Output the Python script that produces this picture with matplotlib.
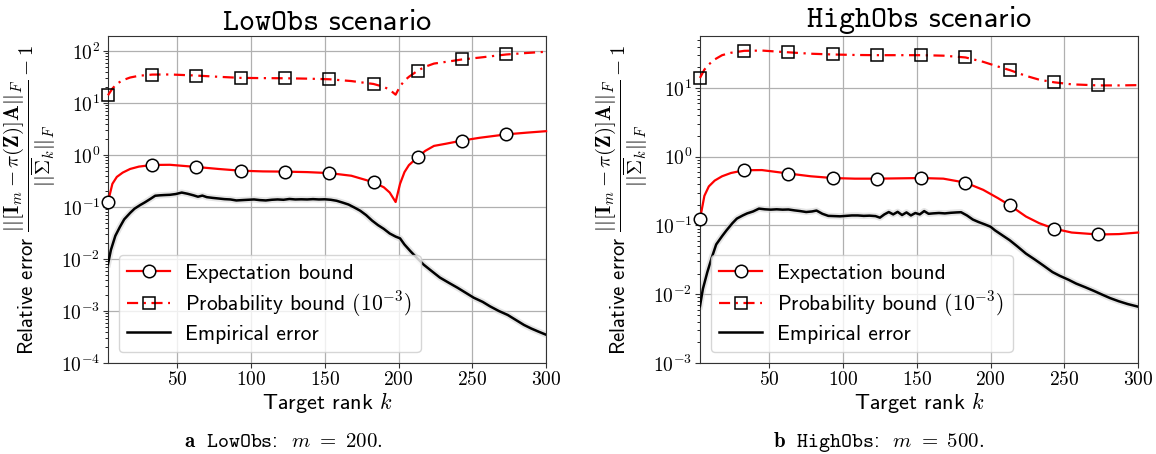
import numpy as np
import matplotlib
matplotlib.use('Agg')
import matplotlib.pyplot as plt
from matplotlib.ticker import FixedLocator, FuncFormatter, NullFormatter, LogLocator

plt.rcParams['mathtext.fontset'] = 'cm'
plt.rcParams['font.family'] = ['cmss10', 'DejaVu Sans']
plt.rcParams['axes.formatter.use_mathtext'] = True

# target ranks carrying a marker
marker_k = [3, 33, 63, 93, 123, 153, 183, 213, 243, 273]

# ---- LowObs (m = 200) ----
k_bound_low = [3, 6, 9, 13, 18, 24, 33, 45, 63, 78, 93, 108, 123, 138, 153, 168,
               183, 190, 194, 198, 201, 204, 207, 213, 218, 224, 232, 243, 255, 273, 287, 300]
exp_low = [0.125, 0.28, 0.38, 0.46, 0.54, 0.60, 0.645, 0.65, 0.59, 0.54, 0.50, 0.485,
           0.48, 0.47, 0.45, 0.40, 0.30, 0.24, 0.19, 0.125, 0.28, 0.47, 0.64, 0.91,
           1.2, 1.5, 1.65, 1.9, 2.15, 2.5, 2.7, 2.88]
prob_low = [14.1, 19, 23.5, 27.5, 31, 33.5, 35.3, 35.5, 33.8, 32, 30.5, 30.2,
            30, 29.5, 28.7, 26.5, 23.3, 20.5, 18, 14.5, 21, 27, 32, 42,
            50, 57.5, 62, 69, 75, 86, 92, 97]
k_emp_low = [3, 5, 8, 11, 14, 18, 21, 25, 28, 32, 35, 38, 41, 45, 49, 53, 57, 61, 64, 67,
             70, 74, 78, 82, 86, 90, 94, 98, 102, 106, 110, 114, 118, 122, 126, 130, 134,
             138, 142, 146, 150, 154, 158, 162, 166, 170, 174, 178, 182, 186, 190, 194,
             198, 201, 204, 208, 212, 217, 222, 228, 234, 240, 246, 251, 257, 262, 268,
             274, 280, 285, 290, 295, 300]
emp_low = [0.008, 0.015, 0.028, 0.041, 0.058, 0.077, 0.093, 0.11, 0.123, 0.145, 0.165,
           0.168, 0.17, 0.172, 0.178, 0.19, 0.18, 0.168, 0.158, 0.166, 0.155, 0.15, 0.146,
           0.142, 0.14, 0.134, 0.136, 0.138, 0.14, 0.136, 0.134, 0.138, 0.14, 0.138, 0.143,
           0.14, 0.141, 0.14, 0.142, 0.14, 0.141, 0.138, 0.132, 0.122, 0.112, 0.098, 0.085,
           0.07, 0.055, 0.045, 0.038, 0.031, 0.027, 0.025, 0.019, 0.0142, 0.0108, 0.0078,
           0.006, 0.0044, 0.0035, 0.0028, 0.0022, 0.0018, 0.0015, 0.00123, 0.001, 0.00084,
           0.00066, 0.00054, 0.00046, 0.0004, 0.00035]

# ---- HighObs (m = 500) ----
k_bound_high = [3, 6, 9, 13, 18, 24, 33, 45, 63, 78, 93, 108, 123, 138, 153, 168, 183,
                195, 205, 213, 224, 233, 243, 255, 273, 287, 300]
exp_high = [0.123, 0.27, 0.37, 0.45, 0.52, 0.58, 0.636, 0.64, 0.57, 0.52, 0.49, 0.48,
            0.48, 0.485, 0.49, 0.48, 0.42, 0.33, 0.25, 0.197, 0.135, 0.108, 0.090,
            0.079, 0.074, 0.075, 0.079]
prob_high = [14, 18.5, 22, 26, 30, 32.5, 34.7, 35, 33, 31.5, 30.7, 30.2, 30, 30, 30,
             29.5, 27.8, 24, 20.5, 18.2, 15, 13.2, 12.1, 11.3, 10.9, 10.9, 11]
k_emp_high = [3, 5, 8, 11, 14, 18, 21, 25, 28, 32, 35, 39, 43, 47, 51, 55, 59, 63, 67, 71,
              75, 79, 82, 86, 90, 94, 98, 102, 106, 110, 114, 118, 122, 125, 128, 131, 134,
              137, 140, 143, 146, 149, 152, 155, 158, 161, 165, 169, 173, 177, 180, 184,
              188, 192, 196, 200, 203, 208, 213, 218, 224, 230, 236, 242, 247, 253, 258,
              264, 270, 276, 281, 287, 293, 300]
emp_high = [0.0067, 0.012, 0.021, 0.034, 0.053, 0.07, 0.085, 0.108, 0.126, 0.14, 0.15,
            0.16, 0.176, 0.172, 0.17, 0.172, 0.17, 0.171, 0.166, 0.162, 0.157, 0.16, 0.165,
            0.148, 0.138, 0.137, 0.136, 0.138, 0.14, 0.14, 0.138, 0.139, 0.137, 0.13, 0.145,
            0.157, 0.145, 0.158, 0.142, 0.155, 0.14, 0.152, 0.145, 0.162, 0.148, 0.15,
            0.152, 0.15, 0.153, 0.155, 0.156, 0.14, 0.122, 0.112, 0.104, 0.096, 0.085,
            0.072, 0.061, 0.05, 0.039, 0.032, 0.026, 0.021, 0.0185, 0.0162, 0.0143, 0.0127,
            0.0112, 0.0098, 0.0088, 0.0079, 0.0072, 0.0066]

ylabel = (r'Relative error $\dfrac{||[\mathbf{I}_m - \pi(\mathbf{Z})]\mathbf{A}||_F}'
          r'{||\overline{\boldsymbol{\Sigma}}_k||_F} - 1$')


def draw(ax, kb, ex, pr, ke, em, ylim, title):
    mk = [i for i, k in enumerate(kb) if k in marker_k]
    ax.plot(ke, em, color='#d0d0d0', lw=4.5, alpha=0.55, zorder=2)
    h3, = ax.plot(ke, em, color='k', lw=1.8, zorder=3)
    h1, = ax.plot(kb, ex, color='red', lw=1.6, marker='o', ms=9, mfc='white', mec='k',
                  mew=1.1, markevery=mk, clip_on=False, zorder=4)
    h2, = ax.plot(kb, pr, color='red', lw=1.6, ls=(0, (5, 2.5, 1, 2.5)), marker='s', ms=9,
                  mfc='none', mec='k', mew=1.1, markevery=mk, clip_on=False, zorder=4)
    ax.set_yscale('log')
    ax.set_xlim(3, 300)
    ax.set_ylim(*ylim)
    ax.xaxis.set_major_locator(FixedLocator([50, 100, 150, 200, 250, 300]))
    ax.xaxis.set_major_formatter(FuncFormatter(lambda v, _: r'$%d$' % v))
    ax.yaxis.set_major_locator(LogLocator(base=10, numticks=20))
    ax.yaxis.set_major_formatter(FuncFormatter(lambda v, _: r'$10^{%d}$' % round(np.log10(v))))
    ax.yaxis.set_minor_formatter(NullFormatter())
    ax.tick_params(labelsize=14, color='#333333', pad=2)
    ax.tick_params(which='minor', length=2)
    ax.grid(True, which='major', color='#b0b0b0', lw=0.9)
    ax.set_axisbelow(True)
    for s in ax.spines.values():
        s.set_color('#333333')
    ax.set_title(title, fontsize=22, pad=4)
    ax.set_xlabel(r'Target rank $k$', fontsize=16, labelpad=1)
    ax.set_ylabel(ylabel, fontsize=15, labelpad=2)
    ax.legend([h1, h2, h3], ['Expectation bound', r'Probability bound $(10^{-3})$',
                             'Empirical error'],
              loc='lower left', fontsize=15.5, handlelength=2.0, handletextpad=0.7,
              framealpha=0.8, edgecolor='#cccccc', borderaxespad=0.5, labelspacing=0.28)


fig = plt.figure(figsize=(11.56, 4.54), dpi=100)
ax1 = fig.add_axes([0.0934, 0.2004, 0.379, 0.7203])
ax2 = fig.add_axes([0.6055, 0.2004, 0.379, 0.7203])

draw(ax1, k_bound_low, exp_low, prob_low, k_emp_low, emp_low, (1e-4, 195),
     r'$\mathtt{LowObs}$ scenario')
draw(ax2, k_bound_high, exp_high, prob_high, k_emp_high, emp_high, (1e-3, 57),
     r'$\mathtt{HighObs}$ scenario')

fig.text(0.245, 0.015, r'$\mathbf{a}\ \ \mathtt{LowObs}$:  $m\ =\ 200.$', ha='center', fontsize=15)
fig.text(0.760, 0.015, r'$\mathbf{b}\ \ \mathtt{HighObs}$:  $m\ =\ 500.$', ha='center', fontsize=15)

fig.savefig('out.png', dpi=100)
